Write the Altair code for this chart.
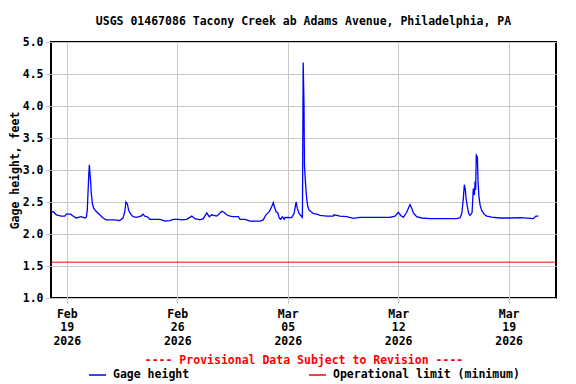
import altair as alt
import pandas as pd

# ---- data ----
start = "2026-02-18T00:00:00"
days = [0.02, 0.13, 0.34, 0.65, 0.87, 0.97, 1.25, 1.39, 1.60, 1.92, 2.14, 2.24, 2.30, 2.39, 2.43,
        2.47, 2.52, 2.55, 2.62, 2.71, 2.87, 3.09, 3.30, 3.50, 4.04, 4.35, 4.56, 4.67, 4.75, 4.84,
        4.92, 5.05, 5.20, 5.41, 5.70, 5.83, 5.94, 6.10, 6.27, 6.91, 7.22, 7.54, 7.75, 8.07, 8.28,
        8.60, 8.92, 9.13, 9.44, 9.65, 9.87, 10.03, 10.18, 10.50, 10.60, 10.82, 10.96, 11.13, 11.34,
        11.55, 11.87, 11.98, 12.29, 12.61, 13.24, 13.45, 13.62, 13.83, 13.99, 14.09, 14.15, 14.26,
        14.37, 14.47, 14.56, 14.66, 14.77, 14.83, 15.25, 15.40, 15.46, 15.53, 15.61, 15.72, 15.89,
        15.93, 15.94, 15.98, 16.03, 16.06, 16.10, 16.14, 16.20, 16.27, 16.35, 16.46, 16.62, 16.84,
        17.05, 17.47, 17.89, 17.93, 18.31, 18.74, 19.16, 19.58, 20.22, 20.85, 21.48, 21.80, 22.01,
        22.16, 22.33, 22.54, 22.64, 22.75, 22.86, 22.96, 23.17, 23.49, 24.02, 24.65, 25.29, 25.71,
        25.92, 26.03, 26.13, 26.19, 26.25, 26.30, 26.38, 26.47, 26.55, 26.68, 26.76, 26.83, 26.87,
        26.91, 26.95, 27.02, 27.06, 27.12, 27.19, 27.29, 27.44, 27.61, 27.93, 28.45, 29.09, 29.72,
        30.56, 30.73, 30.88]
gage_ft = [2.34, 2.35, 2.30, 2.28, 2.28, 2.31, 2.31, 2.28, 2.25, 2.27, 2.25, 2.26, 2.38, 2.90, 3.08,
           2.95, 2.79, 2.64, 2.48, 2.40, 2.35, 2.30, 2.25, 2.22, 2.22, 2.21, 2.25, 2.34, 2.50, 2.47,
           2.37, 2.31, 2.27, 2.26, 2.28, 2.31, 2.28, 2.27, 2.23, 2.23, 2.20, 2.21, 2.23, 2.23, 2.22,
           2.23, 2.28, 2.24, 2.22, 2.24, 2.33, 2.27, 2.30, 2.28, 2.30, 2.355, 2.34, 2.30, 2.28,
           2.27, 2.27, 2.23, 2.23, 2.20, 2.20, 2.22, 2.30, 2.35, 2.43, 2.49, 2.43, 2.35,
           2.33, 2.245, 2.23, 2.27, 2.23, 2.26, 2.255, 2.32, 2.40, 2.50, 2.40, 2.32, 2.27,
           2.26, 2.64, 4.68, 4.04, 3.08, 2.90, 2.75, 2.56, 2.43, 2.375, 2.35, 2.32, 2.31,
           2.29, 2.28, 2.28, 2.30, 2.28, 2.27, 2.245, 2.26, 2.26, 2.26, 2.26, 2.28, 2.34,
           2.29, 2.26, 2.34, 2.40, 2.46, 2.40, 2.33, 2.27, 2.25, 2.24, 2.24, 2.24, 2.24,
           2.255, 2.32, 2.56, 2.77, 2.70, 2.56, 2.43, 2.32, 2.29, 2.33, 2.71, 2.61, 2.82,
           2.69, 3.23, 3.20, 2.82, 2.58, 2.45, 2.37, 2.31, 2.28, 2.265, 2.25, 2.25, 2.255,
           2.24, 2.28, 2.28]
limit_ft = [1.56]
series_names = ["Gage height", "Operational limit (minimum)"]
y_ticks = [1.0, 1.5, 2.0, 2.5, 3.0, 3.5, 4.0, 4.5, 5.0]
x_tick_dates = [(2026, 2, 19), (2026, 2, 26), (2026, 3, 5), (2026, 3, 12), (2026, 3, 19)]
x_domain = [(2026, 2, 18), (2026, 3, 22)]
title_text = "USGS 01467086 Tacony Creek ab Adams Avenue, Philadelphia, PA"
provisional = "---- Provisional Data Subject to Revision ----"

# ---- tables ----
t0 = pd.Timestamp(start)
times = [(t0 + pd.to_timedelta(d, unit="D")).strftime("%Y-%m-%dT%H:%M:%S") for d in days]
gage = pd.DataFrame({"time": times, "value": gage_ft, "series": series_names[0]})
limit = pd.DataFrame({"value": limit_ft, "series": series_names[1]})

FONT = "DejaVu Sans Mono"
FS = 11.5
GRID = "#C8C8C8"

def dt(t):
    return alt.DateTime(year=t[0], month=t[1], date=t[2])

color = alt.Color(
    "series:N",
    scale=alt.Scale(domain=series_names, range=["#0000FF", "#FF0000"]),
    legend=alt.Legend(
        title=provisional, orient="none", legendX=37, legendY=313,
        direction="horizontal", columns=2, columnPadding=116,
        symbolType="stroke", symbolSize=289, symbolStrokeWidth=1.5,
        labelFont=FONT, labelFontSize=FS, labelFontWeight="bold", labelColor="black",
        labelOffset=6, labelLimit=400,
        titleFont=FONT, titleFontSize=FS, titleFontWeight="bold", titleColor="#FF0000",
        titleAnchor="middle", titlePadding=-1, titleLimit=600, padding=0,
    ),
)

x = alt.X(
    "time:T",
    scale=alt.Scale(domain=[dt(x_domain[0]), dt(x_domain[1])]),
    axis=alt.Axis(
        values=[dt(t) for t in x_tick_dates],
        labelExpr="[timeFormat(datum.value, '%b'), timeFormat(datum.value, '%d'), timeFormat(datum.value, '%Y')]",
        labelLineHeight=13.5, labelPadding=5, tickSize=5, title=None, labelOverlap=False,
    ),
)
y = alt.Y(
    "value:Q",
    scale=alt.Scale(domain=[1, 5], nice=False, zero=False),
    axis=alt.Axis(values=y_ticks, format=".1f", title="Gage height, feet",
                  tickSize=6, labelPadding=2, titlePadding=2, labelOverlap=False),
)

line = alt.Chart(gage).mark_line(strokeWidth=1.3, clip=True).encode(x=x, y=y, color=color)
rule = alt.Chart(limit).mark_rule(strokeWidth=1).encode(y=y, color=color)

chart = (
    alt.layer(line, rule)
    .properties(
        width=505, height=256,
        title=alt.TitleParams(text=title_text, font=FONT, fontSize=FS, fontWeight="bold",
                              color="black", anchor="middle", offset=0, baseline="alphabetic",
                              frame="group"),
        autosize=alt.AutoSizeParams(type="none"),
        padding={"left": 43, "top": 34, "right": 10, "bottom": 84},
    )
    .configure_view(stroke="black", strokeWidth=2)
    .configure_axis(
        domain=False, grid=True, gridColor=GRID, gridWidth=1, gridOpacity=1,
        tickColor=GRID, tickWidth=1,
        labelFont=FONT, labelFontSize=FS, labelFontWeight="bold", labelColor="black",
        titleFont=FONT, titleFontSize=FS, titleFontWeight="bold", titleColor="black",
    )
)

chart.save("out.html", embed_options={"renderer": "svg", "actions": False})
